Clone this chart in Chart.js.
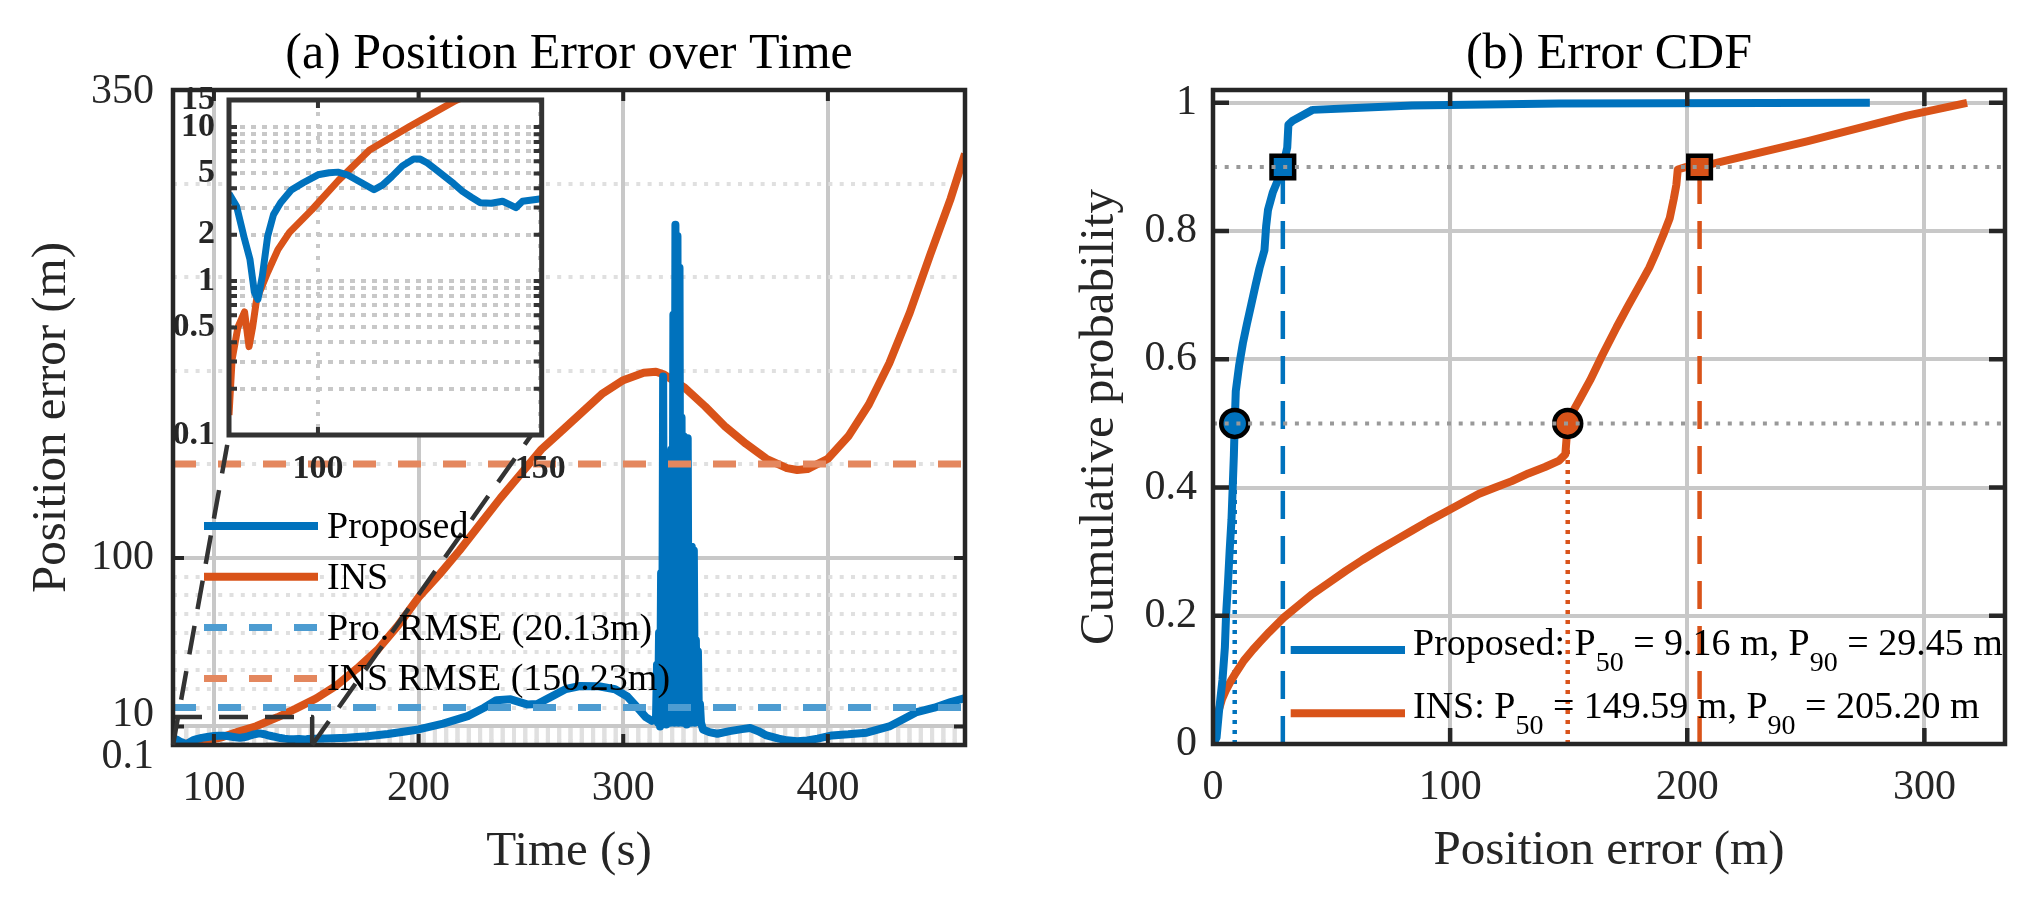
<!doctype html>
<html>

<head>
    <meta charset="utf-8">
    <title>Position error</title>
    <script src="https://cdn.jsdelivr.net/npm/chart.js"></script>
    <style>
        body {
            margin: 0;
            padding: 0;
            width: 2041px;
            height: 902px;
            position: relative;
            overflow: hidden;
            background-color: #ffffff;
        }

        canvas {
            position: absolute;
        }

        #errTime { left: 0; top: 0; }
        #errCdf { left: 1020px; top: 0; }
        #errZoom { left: 130px; top: 60px; }
    </style>
</head>

<body>
    <canvas id="errTime" width="1020" height="902"></canvas>
    <canvas id="errCdf" width="1021" height="902"></canvas>
    <canvas id="errZoom" width="450" height="440"></canvas>

    <script>
        // ---- (a) error over time ----
        var proposedTime = [
            80, 81.7, 83.5, 84.7, 85.7, 86.5, 87.5, 88.7, 90, 91.6,
            94, 96.7, 100, 102.5, 104.5, 106.6, 109.5, 112.6, 114.5, 116.6,
            119, 121.5, 123, 124.6, 126.5, 128.5, 130.5, 132.5, 134.5, 136.5,
            139, 141.5, 143, 144.5, 146, 149.4, 155, 165, 175, 185,
            200, 212, 224, 232, 238, 245, 253, 258, 264, 272,
            279, 288, 296, 302, 307, 311, 314, 315.5,
            316, 316.5, 317, 317.5, 318, 318.5, 319, 319.5, 320, 320.5,
            321, 321.5, 322, 322.5, 323, 323.5, 324, 324.5, 325, 325.5,
            326, 326.5, 327, 327.5, 328, 328.5, 329, 329.5, 330, 330.5,
            331, 331.5, 332, 332.5, 333, 333.5, 334, 334.5, 335, 335.5,
            336, 336.5, 337, 337.5, 338,
            339, 342, 346, 352, 358, 362, 366, 370, 376, 380,
            385, 390, 395, 402, 410, 419, 430, 437, 443, 452, 460, 467
        ];
        var proposedErr = [
            3.7, 3.06, 1.87, 1.39, 0.85, 0.76, 1.08, 1.96, 2.7, 3.23,
            3.9, 4.35, 4.9, 5.05, 5.1, 4.9, 4.4, 3.92, 4.2, 4.77,
            5.6, 6.2, 6.2, 5.85, 5.3, 4.77, 4.3, 3.82, 3.5, 3.23,
            3.2, 3.3, 3.15, 3.0, 3.3, 3.4, 3.6, 4.0, 4.8, 6.0,
            8.4, 11.5, 15.5, 20, 24, 24.5, 21.8, 22, 25.4, 30,
            31.6, 31.5, 29.9, 26, 20, 15, 13, 14,
            14, 43, 12, 60, 10, 92, 12, 197, 15, 150,
            11, 147, 13, 150, 12, 158, 14, 230, 12, 278,
            14, 272, 12, 255, 15, 175, 12, 165, 13, 163,
            11, 164, 13, 105, 12, 106, 14, 104, 12, 56,
            13, 50, 14, 22, 12,
            8.3, 7, 6.1, 7.5, 8.6, 9.2, 7.5, 5.2, 3.5, 2.6,
            2.1, 2.5, 3.5, 5.2, 5.8, 6.7, 10, 14, 17.5, 20, 23, 25.2
        ];
        var insTime = [
            80, 80.7, 82, 83.5, 84.5, 85.3, 86.2, 88.7, 91, 93.6,
            98.6, 104.6, 111.6, 120.6, 131, 140, 150, 160, 170, 180,
            190, 200, 210, 220, 230, 240, 250, 260, 270, 280,
            290, 300, 310, 316, 320, 330, 340, 350, 360, 370,
            380, 385, 390, 400, 410, 420, 430, 440, 450, 460, 467
        ];
        var insErr = [
            0.135, 0.31, 0.5, 0.63, 0.375, 0.5, 0.76, 1.14, 1.6, 2.07,
            2.9, 4.5, 7.1, 10.1, 14.9, 19.5, 25, 32, 41, 51,
            64, 79, 91, 104, 118, 132, 145, 158, 168, 178,
            188, 195, 199, 199.5, 198, 191, 181, 170, 161, 153,
            148, 147, 147.5, 153, 165, 182, 204, 231, 262, 292, 316
        ];
        var rmseProposed = 20.13;
        var rmseIns = 150.23;

        var timeRange = [80, 467];
        var errRange = [0.1, 350];
        var timeTicks = [100, 200, 300, 400];
        var errTicks = [0.1, 10, 100, 350];
        var errMinorTicks = [1, 2, 3, 4, 5, 6, 7, 8, 9, 20, 30, 40, 50, 60, 70, 80, 90, 150, 200, 250, 300];

        // zoomed window shown in the inset
        var zoomTime = [80, 148];
        var zoomErr = [0.1, 15];
        var insetTimeRange = [80, 150.3];
        var insetErrRange = [0.1, 15];
        var insetTimeTicks = [100, 150];
        var insetErrTicks = [0.1, 0.5, 1, 2, 5, 10, 15];
        var insetErrMinor = [0.2, 0.3, 0.4, 0.6, 0.7, 0.8, 0.9, 3, 4, 6, 7, 8, 9];

        // ---- (b) error CDF ----
        var cdfProposedErr = [0, 1.5, 2.5, 4, 5, 5.5, 6.3, 7, 7.8, 8.3, 8.8, 9.16, 9.6, 11, 12.6, 14.3, 16.1, 17.9, 19.6, 21.7, 22.4, 23.2, 25.2, 28, 29.45, 31.3, 31.8, 33.6, 42, 60, 84, 146, 277];
        var cdfProposedProb = [0, 0.01, 0.05, 0.1, 0.15, 0.2, 0.25, 0.3, 0.35, 0.4, 0.45, 0.5, 0.55, 0.59, 0.625, 0.655, 0.685, 0.715, 0.742, 0.77, 0.807, 0.833, 0.86, 0.885, 0.9, 0.93, 0.966, 0.972, 0.989, 0.992, 0.996, 0.999, 1.0];
        var cdfInsErr = [
            0, 1, 2.2, 3.8, 5.6, 7.5, 9.8, 13, 16.8, 20, 23.8, 29.8, 36, 42, 49, 56, 63, 70, 77, 84,
            91, 98, 105, 112, 119, 126, 133, 140, 146, 148.6, 149.59, 152, 155, 159, 164, 170.2, 175, 180, 184, 187,
            190, 192.6, 194.3, 195.4, 196, 199.7, 205.2, 250.5, 292.7, 318
        ];
        var cdfInsProb = [
            0, 0.03, 0.05, 0.07, 0.085, 0.098, 0.112, 0.13, 0.147, 0.16, 0.175, 0.197, 0.216, 0.234, 0.252, 0.27, 0.287, 0.303, 0.318, 0.333,
            0.348, 0.362, 0.376, 0.39, 0.4, 0.41, 0.422, 0.432, 0.442, 0.452, 0.5, 0.52, 0.54, 0.567, 0.605, 0.65, 0.683, 0.716, 0.743, 0.768,
            0.795, 0.82, 0.85, 0.872, 0.896, 0.9, 0.9, 0.94, 0.98, 1.0
        ];
        var p50 = [9.16, 149.59];   // Proposed, INS
        var p90 = [29.45, 205.20];
        var pLevels = [0.5, 0.9];
        var cdfRange = [0, 334];
        var probRange = [0, 1.02];
        var cdfTicks = [0, 100, 200, 300];
        var probTicks = [0, 0.2, 0.4, 0.6, 0.8, 1];

        var BLUE = '#0072BD';
        var ORANGE = '#D95319';
        var SERIF = "'Liberation Serif', 'Times New Roman', serif";

        Chart.defaults.font.family = SERIF;
        Chart.defaults.color = '#262626';
        Chart.defaults.animation = false;
        Chart.defaults.events = [];
        Chart.defaults.plugins.legend.display = false;
        Chart.defaults.plugins.tooltip.enabled = false;

        function toPoints(xs, ys) {
            return xs.map(function (x, i) { return { x: x, y: ys[i] }; });
        }

        function lineSet(label, data, color, width, extra) {
            return Object.assign({
                label: label, data: data,
                borderColor: color, backgroundColor: color, borderWidth: width,
                pointRadius: 0, tension: 0, fill: false,
                borderJoinStyle: 'round', borderCapStyle: 'butt'
            }, extra || {});
        }

        function fixedTicks(values) {
            return function (scale) {
                scale.ticks = values.slice().sort(function (a, b) { return a - b; })
                    .map(function (v) { return { value: v }; });
            };
        }

        // text with _{..} subscripts
        function drawRich(ctx, text, x, y, cfg) {
            var parts = text.split(/_\{([^}]*)\}/);
            parts.forEach(function (p, i) {
                if (!p) return;
                var sub = i % 2 === 1;
                ctx.font = (sub ? cfg.subSize : cfg.size) + 'px ' + SERIF;
                ctx.fillText(p, x, sub ? y + cfg.subDrop : y);
                x += ctx.measureText(p).width;
            });
        }

        // legend drawn inside the axes, no box
        function axesLegend(cfg) {
            return {
                id: 'axesLegend',
                afterDraw: function (chart) {
                    var ctx = chart.ctx, a = chart.chartArea;
                    var items = chart.data.datasets.filter(function (d) { return d.legendRank !== undefined; })
                        .sort(function (p, q) { return p.legendRank - q.legendRank; });
                    ctx.save();
                    ctx.fillStyle = '#000';
                    ctx.textBaseline = 'alphabetic';
                    ctx.textAlign = 'left';
                    items.forEach(function (ds, i) {
                        var y = a.top + cfg.top + i * cfg.rowGap;
                        var x0 = a.left + cfg.left;
                        ctx.strokeStyle = ds.borderColor;
                        ctx.lineWidth = ds.borderWidth;
                        ctx.setLineDash(ds.borderDash || []);
                        ctx.beginPath();
                        ctx.moveTo(x0, y);
                        ctx.lineTo(x0 + cfg.sample, y);
                        ctx.stroke();
                        ctx.setLineDash([]);
                        drawRich(ctx, ds.label, x0 + cfg.sample + cfg.gap, y + cfg.baseline, cfg);
                    });
                    ctx.restore();
                }
            };
        }

        // box round the axes plus inward tick marks (MATLAB style)
        function axesFrame(cfg) {
            return {
                id: 'axesFrame',
                beforeDraw: function (chart) {
                    if (!cfg.fill) return;
                    var a = chart.chartArea, ctx = chart.ctx;
                    ctx.save();
                    ctx.fillStyle = cfg.fill;
                    ctx.fillRect(a.left, a.top, a.width, a.height);
                    ctx.restore();
                },
                afterDatasetsDraw: function (chart) {
                    var a = chart.chartArea, ctx = chart.ctx;
                    var sx = chart.scales.x, sy = chart.scales.y;
                    ctx.save();
                    ctx.strokeStyle = cfg.color;
                    ctx.lineWidth = cfg.tickWidth;
                    ctx.beginPath();
                    cfg.xTicks.forEach(function (v) {
                        var px = sx.getPixelForValue(v);
                        ctx.moveTo(px, a.bottom); ctx.lineTo(px, a.bottom - cfg.len);
                        ctx.moveTo(px, a.top); ctx.lineTo(px, a.top + cfg.len);
                    });
                    cfg.yTicks.forEach(function (v) {
                        var py = sy.getPixelForValue(v);
                        ctx.moveTo(a.left, py); ctx.lineTo(a.left + cfg.len, py);
                        ctx.moveTo(a.right, py); ctx.lineTo(a.right - cfg.len, py);
                    });
                    ctx.stroke();
                    ctx.lineWidth = cfg.boxWidth;
                    ctx.strokeRect(a.left, a.top, a.width, a.height);
                    ctx.restore();
                }
            };
        }

        // ================= inset (log scale) =================
        var insetLabelSet = new Set(insetErrTicks);
        var insetCanvas = document.getElementById('errZoom');

        var insetChart = new Chart(insetCanvas, {
            type: 'line',
            data: {
                datasets: [
                    lineSet('Proposed', toPoints(proposedTime, proposedErr), BLUE, 7, { order: 0 }),
                    lineSet('INS', toPoints(insTime, insErr), ORANGE, 7, { order: 1 })
                ]
            },
            options: {
                responsive: false,
                layout: { padding: { left: 0, right: 37, top: 40, bottom: 0 } },
                scales: {
                    x: {
                        type: 'linear', min: insetTimeRange[0], max: insetTimeRange[1],
                        afterBuildTicks: fixedTicks(insetTimeTicks),
                        afterFit: function (s) { s.height = 65; },
                        ticks: { font: { size: 34, weight: 'bold' }, padding: 14, maxRotation: 0, autoSkip: false },
                        grid: { color: '#c8c8c8', lineWidth: 4, drawTicks: false },
                        border: { display: false, dash: [4, 8] }
                    },
                    y: {
                        type: 'logarithmic', min: insetErrRange[0], max: insetErrRange[1],
                        afterBuildTicks: fixedTicks(insetErrTicks.concat(insetErrMinor)),
                        afterFit: function (s) { s.width = 99; },
                        ticks: {
                            font: { size: 34, weight: 'bold' }, padding: 14, autoSkip: false,
                            callback: function (v) { return insetLabelSet.has(v) ? String(v) : ''; }
                        },
                        grid: {
                            drawTicks: false, lineWidth: 4,
                            color: function (c) {
                                if (!c.tick) return 'transparent';
                                var v = c.tick.value;
                                return (v === insetErrRange[0] || v === insetErrRange[1]) ? 'transparent' : '#c8c8c8';
                            }
                        },
                        border: { display: false, dash: [5, 6] }
                    }
                }
            },
            plugins: [axesFrame({
                fill: '#ffffff', color: '#333333', tickWidth: 4, len: 8, boxWidth: 5,
                xTicks: [insetTimeTicks[0]],
                yTicks: insetErrTicks.concat(insetErrMinor).filter(function (v) {
                    return v > insetErrRange[0] && v < insetErrRange[1];
                })
            })]
        });

        // ================= (a) main axes =================
        var errMajorSet = new Set([10, 100]);

        // y labels are nudged apart like in the figure (0.1 and 10 sit very close)
        var errLabelShift = { 0.1: 12, 10: -11, 100: 0, 350: 2 };
        var errLabels = {
            id: 'errLabels',
            afterDraw: function (chart) {
                var ctx = chart.ctx, sy = chart.scales.y, a = chart.chartArea;
                ctx.save();
                ctx.font = '42px ' + SERIF;
                ctx.fillStyle = '#262626';
                ctx.textAlign = 'right';
                ctx.textBaseline = 'middle';
                errTicks.forEach(function (v) {
                    ctx.fillText(String(v), a.left - 19, sy.getPixelForValue(v) + (errLabelShift[v] || 0));
                });
                ctx.restore();
            }
        };

        // dashed lines from the zoom window to the inset corners
        var zoomConnectors = {
            id: 'zoomConnectors',
            afterDatasetsDraw: function (chart) {
                var ctx = chart.ctx, sx = chart.scales.x, sy = chart.scales.y;
                var ix = insetChart.scales.x, ia = insetChart.chartArea;
                var offX = insetCanvas.offsetLeft - chart.canvas.offsetLeft;
                var offY = insetCanvas.offsetTop - chart.canvas.offsetTop;
                ctx.save();
                ctx.strokeStyle = '#333333';
                ctx.lineWidth = 4.5;
                ctx.setLineDash([29, 17]);
                zoomTime.forEach(function (t) {
                    ctx.beginPath();
                    ctx.moveTo(sx.getPixelForValue(t), sy.getPixelForValue(zoomErr[0]));
                    ctx.lineTo(offX + ix.getPixelForValue(t), offY + ia.bottom);
                    ctx.stroke();
                });
                ctx.restore();
            }
        };

        var zoomBox = toPoints(
            [zoomTime[0], zoomTime[1], zoomTime[1], zoomTime[0], zoomTime[0]],
            [zoomErr[1], zoomErr[1], zoomErr[0], zoomErr[0], zoomErr[1]]
        );

        var mainChart = new Chart(document.getElementById('errTime'), {
            type: 'line',
            data: {
                datasets: [
                    lineSet('', zoomBox, '#333333', 4.5, { borderDash: [29, 17], order: -1 }),
                    lineSet('Pro. RMSE (' + rmseProposed.toFixed(2) + 'm)',
                        toPoints(timeRange, [rmseProposed, rmseProposed]), '#4D9CD1', 7,
                        { borderDash: [23, 22], order: 0, legendRank: 2 }),
                    lineSet('INS RMSE (' + rmseIns.toFixed(2) + 'm)',
                        toPoints(timeRange, [rmseIns, rmseIns]), '#E4875E', 7,
                        { borderDash: [23, 22], order: 0, legendRank: 3 }),
                    lineSet('Proposed', toPoints(proposedTime, proposedErr), BLUE, 8, { order: 1, legendRank: 0 }),
                    lineSet('INS', toPoints(insTime, insErr), ORANGE, 8, { order: 2, legendRank: 1 })
                ]
            },
            options: {
                responsive: false,
                layout: { padding: { left: 0, right: 55, top: 0, bottom: 0 } },
                plugins: {
                    title: {
                        display: true, text: '(a) Position Error over Time', color: '#000',
                        font: { size: 50, weight: 'normal' }, padding: { top: 25, bottom: 5 }, fullSize: false
                    }
                },
                scales: {
                    x: {
                        type: 'linear', min: timeRange[0], max: timeRange[1],
                        afterBuildTicks: fixedTicks(timeTicks),
                        afterFit: function (s) { s.height = 157; },
                        ticks: { font: { size: 42 }, padding: 19, maxRotation: 0, autoSkip: false },
                        grid: { color: '#c8c8c8', lineWidth: 4, drawTicks: false },
                        border: { display: false },
                        title: { display: true, text: 'Time (s)', font: { size: 49 }, padding: { top: 0, bottom: 20 } }
                    },
                    y: {
                        type: 'linear', min: errRange[0], max: errRange[1],
                        afterBuildTicks: fixedTicks(errTicks.concat(errMinorTicks)),
                        afterFit: function (s) { s.width = 173; },
                        ticks: { display: false },
                        grid: {
                            drawTicks: false, lineWidth: 4,
                            color: function (c) {
                                if (!c.tick) return 'transparent';
                                var v = c.tick.value;
                                if (v === errRange[0] || v === errRange[1]) return 'transparent';
                                return errMajorSet.has(v) ? '#c8c8c8' : '#e0e0e0';
                            }
                        },
                        border: {
                            display: false,
                            dash: function (c) {
                                return (c.tick && !errMajorSet.has(c.tick.value)) ? [4, 7.3] : [];
                            }
                        },
                        title: { display: true, text: 'Position error (m)', font: { size: 49 }, padding: { top: 23, bottom: 0 } }
                    }
                }
            },
            plugins: [
                axesFrame({ color: '#262626', tickWidth: 4, len: 11, boxWidth: 4.5, xTicks: timeTicks, yTicks: [10, 100] }),
                zoomConnectors, errLabels,
                axesLegend({ left: 31, top: 436, rowGap: 50.8, sample: 114, gap: 9, baseline: 12, size: 38, subSize: 28, subDrop: 16 })
            ]
        });

        // ================= (b) CDF =================
        function vLine(x, yTop, color, dash, rank) {
            return lineSet('', toPoints([x, x], [0, yTop]), color, 4.5, { borderDash: dash, order: rank });
        }

        var cdfChart = new Chart(document.getElementById('errCdf'), {
            type: 'line',
            data: {
                datasets: [
                    lineSet('', toPoints(cdfRange, [pLevels[0], pLevels[0]]), '#999999', 4, { borderDash: [4, 7.7], order: 0 }),
                    lineSet('', toPoints(cdfRange, [pLevels[1], pLevels[1]]), '#999999', 4, { borderDash: [4, 7.7], order: 0 }),
                    {
                        label: '', data: toPoints(p50, [pLevels[0], pLevels[0]]), showLine: false, order: 1,
                        pointStyle: 'circle', pointRadius: 13.5, pointBorderWidth: 4.5,
                        pointBorderColor: '#000', pointBackgroundColor: [BLUE, ORANGE]
                    },
                    {
                        label: '', data: toPoints(p90, [pLevels[1], pLevels[1]]), showLine: false, order: 1,
                        pointStyle: 'rect', pointRadius: 16, pointBorderWidth: 4.5,
                        pointBorderColor: '#000', pointBackgroundColor: [BLUE, ORANGE]
                    },
                    lineSet('Proposed: P_{50} = ' + p50[0].toFixed(2) + ' m, P_{90} = ' + p90[0].toFixed(2) + ' m',
                        toPoints(cdfProposedErr, cdfProposedProb), BLUE, 8, { order: 2, legendRank: 0 }),
                    lineSet('INS: P_{50} = ' + p50[1].toFixed(2) + ' m, P_{90} = ' + p90[1].toFixed(2) + ' m',
                        toPoints(cdfInsErr, cdfInsProb), ORANGE, 8, { order: 3, legendRank: 1 }),
                    vLine(p50[0], pLevels[0], BLUE, [4, 6], 4),
                    vLine(p90[0], pLevels[1], BLUE, [28, 17], 4),
                    vLine(p50[1], pLevels[0], ORANGE, [4, 6], 4),
                    vLine(p90[1], pLevels[1], ORANGE, [28, 17], 4)
                ]
            },
            options: {
                responsive: false,
                layout: { padding: { left: 0, right: 36, top: 0, bottom: 0 } },
                plugins: {
                    title: {
                        display: true, text: '(b) Error CDF', color: '#000',
                        font: { size: 50, weight: 'normal' }, padding: { top: 25, bottom: 5 }, fullSize: false
                    }
                },
                scales: {
                    x: {
                        type: 'linear', min: cdfRange[0], max: cdfRange[1],
                        afterBuildTicks: fixedTicks(cdfTicks),
                        afterFit: function (s) { s.height = 158; },
                        ticks: { font: { size: 42 }, padding: 19, maxRotation: 0, autoSkip: false },
                        grid: { color: '#c8c8c8', lineWidth: 4, drawTicks: false },
                        border: { display: false },
                        title: { display: true, text: 'Position error (m)', font: { size: 49 }, padding: { top: 0, bottom: 21 } }
                    },
                    y: {
                        type: 'linear', min: probRange[0], max: probRange[1],
                        afterBuildTicks: fixedTicks(probTicks),
                        afterFit: function (s) { s.width = 193; },
                        ticks: {
                            font: { size: 42 }, padding: 16, autoSkip: false,
                            callback: function (v) { return String(v); }
                        },
                        grid: { color: '#c8c8c8', lineWidth: 4, drawTicks: false },
                        border: { display: false },
                        title: { display: true, text: 'Cumulative probability', font: { size: 49 }, padding: { top: 51, bottom: 0 } }
                    }
                }
            },
            plugins: [
                axesFrame({ color: '#262626', tickWidth: 4.5, len: 16, boxWidth: 4.5, xTicks: cdfTicks.slice(1), yTicks: probTicks.slice(1) }),
                axesLegend({ left: 77.7, top: 560, rowGap: 63.3, sample: 114.3, gap: 8, baseline: 5, size: 38, subSize: 28, subDrop: 16 })
            ]
        });
    </script>
</body>

</html>
